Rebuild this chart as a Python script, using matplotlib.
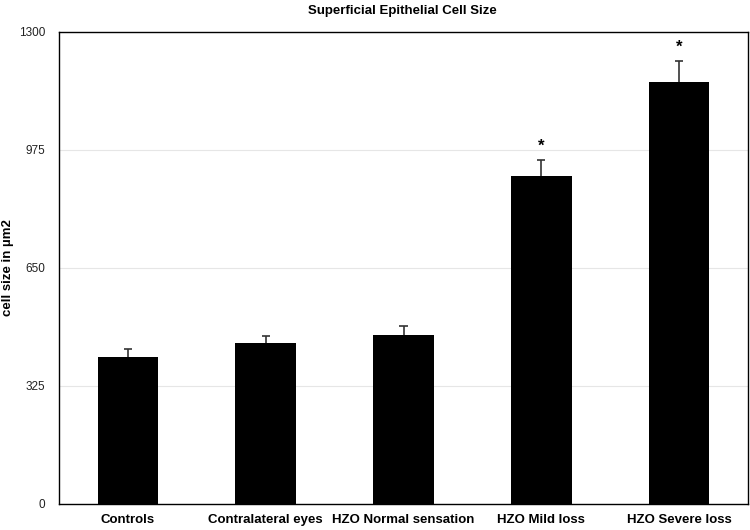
import matplotlib
matplotlib.use("Agg")
import matplotlib.pyplot as plt
import numpy as np

categories = ["Controls", "Contralateral eyes", "HZO Normal sensation", "HZO Mild loss", "HZO Severe loss"]
values = [406, 443, 466, 904, 1163]
errors = [20, 20, 23, 44, 57]
significant = [False, False, False, True, True]
yticks = [0, 325, 650, 975, 1300]

plt.rcParams['font.family'] = ['Liberation Sans', 'DejaVu Sans']

fig = plt.figure(figsize=(7.5, 5.3), dpi=100)
ax = fig.add_axes([59/750, 26/530, 689/750, 472/530])

x = np.arange(len(categories))
v = np.array(values)
e = np.array(errors)
ax.bar(x, v, width=0.44, color='black', zorder=3)
ax.vlines(x, v, v + e, color='#333333', linewidth=1.2, zorder=2)
ax.hlines(v + e, x - 0.03, x + 0.03, color='#333333', linewidth=1.2, zorder=2)
for xi, vi, ei, s in zip(x, v, e, significant):
    if s:
        ax.text(xi, vi + ei + 18, '*', ha='center', va='bottom', fontsize=12, fontweight='bold')

ax.set_xlim(-0.5, len(categories) - 0.5)
ax.set_ylim(0, 1300)
ax.set_yticks(yticks)
ax.set_yticklabels([str(t) for t in yticks], fontsize=8.5, color='#222222')
ax.set_xticks(x)
ax.set_xticklabels(categories, fontsize=9.5, fontweight='bold')
ax.tick_params(axis='both', length=0)
ax.tick_params(axis='x', pad=7)
ax.tick_params(axis='y', pad=10)
ax.yaxis.grid(True, color='#e6e6e6', linewidth=0.8, zorder=0)
ax.set_axisbelow(True)
for sp in ax.spines.values():
    sp.set_color('black')
    sp.set_linewidth(1.0)
ax.set_ylabel('cell size in µm2', fontsize=9.5, fontweight='bold')
ax.yaxis.set_label_coords(-45/689, 0.5)
fig.text(402/750, 1 - 11/530, 'Superficial Epithelial Cell Size', ha='center', va='center',
         fontsize=9.5, fontweight='bold')

fig.savefig('out.png', dpi=100)
